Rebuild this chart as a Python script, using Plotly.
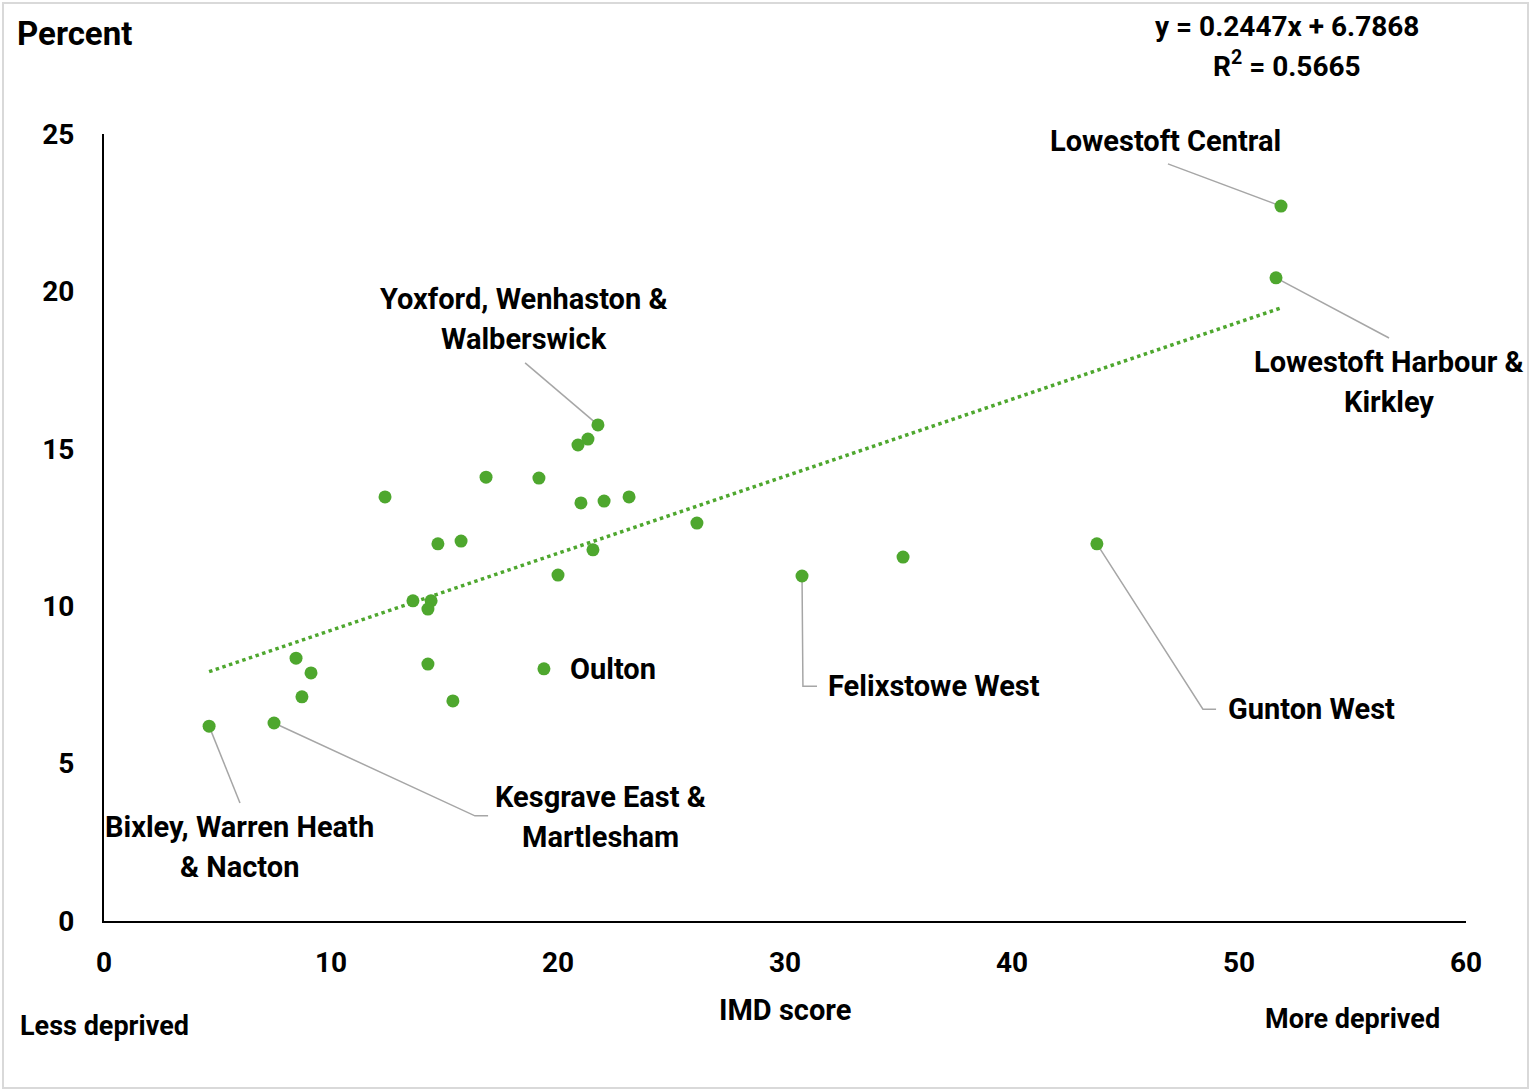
import numpy as np
import plotly.graph_objects as go

# ---------------- data ----------------
imd_score = [51.85, 51.63, 21.76, 21.32, 20.88, 16.83, 19.16, 12.38, 21.01, 22.03,
             23.13, 26.12, 14.71, 15.73, 21.54, 20.00, 30.75, 35.20, 43.74, 13.61,
             14.41, 14.27, 8.46, 9.12, 14.27, 19.38, 8.72, 15.37, 7.49, 4.63]
percent = [22.71, 20.43, 15.76, 15.31, 15.12, 14.10, 14.07, 13.47, 13.28, 13.34,
           13.47, 12.64, 11.98, 12.07, 11.79, 10.99, 10.96, 11.56, 11.98, 10.17,
           10.17, 9.91, 8.35, 7.88, 8.16, 8.01, 7.12, 6.99, 6.29, 6.19]
ward_names = ["Lowestoft Central", "Lowestoft Harbour & Kirkley", "Yoxford, Wenhaston & Walberswick",
              "", "", "", "", "", "", "", "", "", "", "", "", "",
              "Felixstowe West", "", "Gunton West", "", "", "", "", "", "", "Oulton",
              "", "", "Kesgrave East & Martlesham", "Bixley, Warren Heath & Nacton"]
trend_slope = 0.2447
trend_intercept = 6.7868
r_squared = 0.5665
x_ticks = [0, 10, 20, 30, 40, 50, 60]
y_ticks = [0, 5, 10, 15, 20, 25]

# ---------------- style ----------------
GREEN = "#4EA72E"
FONT = "Roboto"
LBL = 29
TICK = 28
LEADER = "#A6A6A6"

# label placement (data coords): lines of text, text anchor, leader-line path after the point
label_style = {
    "Lowestoft Central": dict(lines=["Lowestoft Central"], at=(46.78, 24.78), xanchor="center",
                              path=[(46.87, 24.05)]),
    "Lowestoft Harbour & Kirkley": dict(lines=["Lowestoft Harbour &", "Kirkley"], at=(56.61, 17.12),
                                        xanchor="center", path=[(56.61, 18.52)]),
    "Yoxford, Wenhaston & Walberswick": dict(lines=["Yoxford, Wenhaston &", "Walberswick"], at=(18.50, 19.12),
                                             xanchor="center", path=[(18.55, 17.73)]),
    "Felixstowe West": dict(lines=["Felixstowe West"], at=(31.81, 7.46), xanchor="left",
                            path=[(30.79, 7.46), (31.41, 7.46)]),
    "Gunton West": dict(lines=["Gunton West"], at=(49.43, 6.73), xanchor="left",
                        path=[(48.41, 6.73), (48.99, 6.73)]),
    "Oulton": dict(lines=["Oulton"], at=(20.44, 8.0), xanchor="left", path=[]),
    "Kesgrave East & Martlesham": dict(lines=["Kesgrave East &", "Martlesham"], at=(21.85, 3.30),
                                       xanchor="center", path=[(16.34, 3.34), (16.92, 3.34)]),
    "Bixley, Warren Heath & Nacton": dict(lines=["Bixley, Warren Heath", "& Nacton"], at=(5.99, 2.35),
                                          xanchor="center", path=[(5.99, 3.75)]),
}

fig = go.Figure()

# trendline
tx = np.array([min(imd_score), max(imd_score)])
fig.add_trace(go.Scatter(x=tx, y=trend_slope * tx + trend_intercept, mode="lines",
                         line=dict(color=GREEN, width=3.5, dash="dot"), hoverinfo="skip",
                         showlegend=False))

# leader lines
shapes = []
for xv, yv, nm in zip(imd_score, percent, ward_names):
    if nm and label_style[nm]["path"]:
        pts = [(xv, yv)] + label_style[nm]["path"]
        d = "M " + " L ".join(f"{a},{b}" for a, b in pts)
        shapes.append(dict(type="path", path=d, xref="x", yref="y",
                           line=dict(color=LEADER, width=1.5), layer="below"))

# points
fig.add_trace(go.Scatter(x=imd_score, y=percent, mode="markers",
                         marker=dict(color=GREEN, size=13), text=ward_names,
                         showlegend=False))

def bold(size):
    return dict(size=size, color="black", family=FONT, weight="bold")

annotations = []
for nm, st in label_style.items():
    n = len(st["lines"])
    for i, line in enumerate(st["lines"]):
        shift = (n - 1) * 20 - i * 40
        annotations.append(dict(x=st["at"][0], y=st["at"][1], xref="x", yref="y", text=line,
                                showarrow=False, xanchor=st["xanchor"], yanchor="middle",
                                yshift=shift, font=bold(LBL)))

# equation
annotations.append(dict(x=0.8686, y=1.136, xref="paper", yref="paper",
                        text=f"y = {trend_slope}x + {trend_intercept}", showarrow=False,
                        xanchor="center", yanchor="middle", font=bold(28)))
annotations.append(dict(x=0.8686, y=1.088, xref="paper", yref="paper",
                        text=f"R<sup>2</sup> = {r_squared}", showarrow=False,
                        xanchor="center", yanchor="middle", font=bold(28)))
# axis captions
annotations.append(dict(x=-0.0653, y=1.128, xref="paper", yref="paper", text="Percent",
                        showarrow=False, xanchor="left", yanchor="middle", font=bold(33)))
annotations.append(dict(x=0.0007, y=-0.1334, xref="paper", yref="paper", text="Less deprived",
                        showarrow=False, xanchor="center", yanchor="middle", font=bold(27)))
annotations.append(dict(x=0.5, y=-0.1131, xref="paper", yref="paper", text="IMD score",
                        showarrow=False, xanchor="center", yanchor="middle", font=bold(29)))
annotations.append(dict(x=0.9163, y=-0.1245, xref="paper", yref="paper", text="More deprived",
                        showarrow=False, xanchor="center", yanchor="middle", font=bold(27)))

# outer frame
shapes.append(dict(type="rect", xref="paper", yref="paper",
                   x0=(3 - 104) / 1362, x1=(1528 - 104) / 1362,
                   y0=(921 - 1088) / 787, y1=(921 - 3) / 787,
                   line=dict(color="#D9D9D9", width=2), fillcolor="rgba(0,0,0,0)", layer="below"))

fig.update_layout(
    width=1531, height=1091,
    margin=dict(l=104, r=65, t=134, b=170),
    paper_bgcolor="white", plot_bgcolor="white",
    font=bold(LBL),
    xaxis=dict(range=[0, 60], tickvals=x_ticks, showgrid=False, zeroline=False,
               showline=True, linecolor="black", linewidth=2, ticks="",
               ticklabelstandoff=15, tickfont=bold(TICK)),
    yaxis=dict(range=[0, 25], tickvals=y_ticks, showgrid=False, zeroline=False,
               showline=True, linecolor="black", linewidth=2, ticks="",
               ticklabelstandoff=22, tickfont=bold(TICK)),
    shapes=shapes, annotations=annotations, showlegend=False,
)

fig.write_html("out.html", config={"displayModeBar": False},
               post_script="document.body.style.margin='0';")
